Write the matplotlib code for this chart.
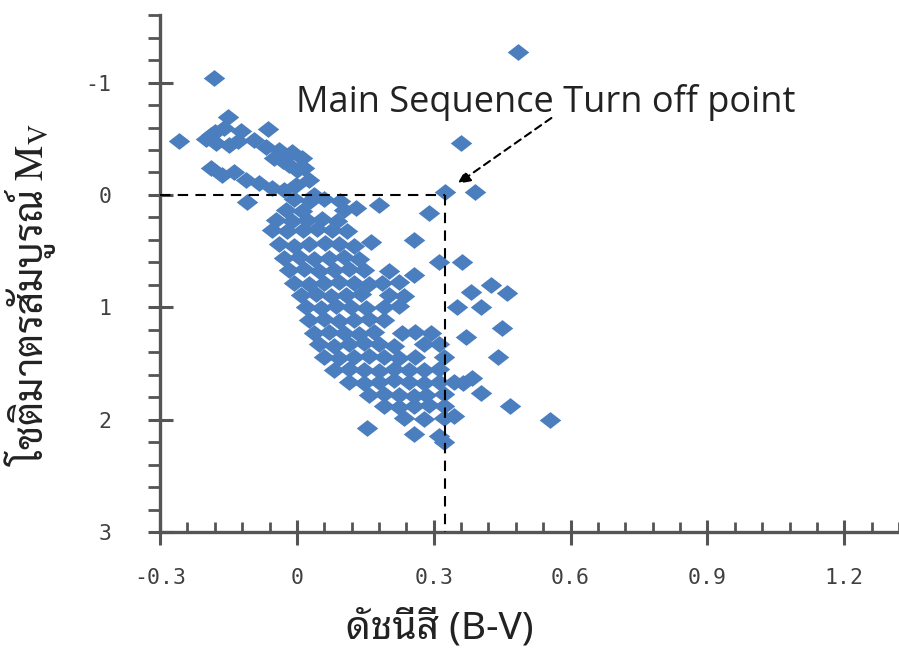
import matplotlib
matplotlib.use("Agg")
import matplotlib.pyplot as plt
import numpy as np
from matplotlib import font_manager
from matplotlib.ft2font import FT2Font
from matplotlib.path import Path

# colour index (B-V) and absolute magnitude M_V of the cluster stars
bv = [0.484, -0.182, -0.258, 0.360, 0.390, 0.325, 0.289, 0.179, 0.256, 0.162,
      -0.151, -0.123, -0.063, -0.180, -0.109,
      -0.188, -0.160, -0.094, -0.068, -0.039, -0.011, 0.011, 0.015, -0.018,
      -0.177, -0.149, -0.200, -0.130, -0.050, -0.030, 0.000,
      -0.188, -0.164, -0.138, -0.112, -0.083, -0.055, -0.028, -0.002, 0.026, 0.037,
      -0.007, 0.028, 0.059, 0.094,
      -0.024, 0.011, 0.103, 0.129,
      -0.046, -0.011, 0.022, 0.055, 0.088,
      -0.055, -0.022, 0.013, 0.044, 0.077, 0.109,
      -0.039, -0.007, 0.026, 0.061, 0.092, 0.125,
      -0.028, 0.004, 0.037, 0.070, 0.103, 0.136,
      0.311, 0.361,
      -0.018, 0.015, 0.048, 0.081, 0.114, 0.147, 0.201, 0.256,
      -0.007, 0.026, 0.059, 0.092, 0.125, 0.158, 0.186, 0.223,
      0.425, 0.381, 0.460,
      0.009, 0.042, 0.074, 0.107, 0.140, 0.201, 0.234,
      0.350, 0.403,
      0.020, 0.053, 0.085, 0.118, 0.151, 0.190, 0.223,
      0.026, 0.059, 0.092, 0.125, 0.158, 0.190,
      0.449,
      0.037, 0.070, 0.103, 0.136, 0.168, 0.230, 0.260, 0.295,
      0.370,
      0.048, 0.081, 0.114, 0.147, 0.180, 0.212, 0.278, 0.311,
      0.442,
      0.059, 0.092, 0.125, 0.158, 0.190, 0.223, 0.260, 0.322,
      0.081, 0.114, 0.147, 0.180, 0.212, 0.245, 0.278, 0.311,
      0.383,
      0.114, 0.147, 0.180, 0.212, 0.245, 0.278, 0.311, 0.344, 0.365,
      0.403,
      0.158, 0.190, 0.223, 0.256, 0.284, 0.322,
      0.468,
      0.190, 0.223, 0.256, 0.289, 0.322,
      0.556,
      0.234, 0.278, 0.322, 0.344,
      0.153,
      0.256, 0.311, 0.322]
mv = [-1.27, -1.04, -0.48, -0.46, -0.03, -0.03, 0.16, 0.09, 0.40, 0.42,
      -0.69, -0.57, -0.59, -0.56, 0.06,
      -0.53, -0.60, -0.49, -0.43, -0.40, -0.38, -0.33, -0.24, -0.27,
      -0.46, -0.44, -0.50, -0.48, -0.33, -0.30, -0.22,
      -0.24, -0.18, -0.20, -0.13, -0.11, -0.06, -0.04, -0.09, -0.13, 0.00,
      0.04, 0.05, 0.04, 0.05,
      0.13, 0.14, 0.13, 0.12,
      0.22, 0.23, 0.22, 0.21, 0.23,
      0.31, 0.32, 0.31, 0.30, 0.31, 0.32,
      0.44, 0.45, 0.44, 0.43, 0.44, 0.45,
      0.56, 0.55, 0.57, 0.56, 0.55, 0.57,
      0.60, 0.60,
      0.67, 0.66, 0.68, 0.67, 0.66, 0.67, 0.68, 0.71,
      0.78, 0.79, 0.78, 0.77, 0.78, 0.79, 0.78, 0.77,
      0.80, 0.86, 0.87,
      0.89, 0.88, 0.90, 0.89, 0.88, 0.89, 0.90,
      1.00, 1.00,
      1.00, 1.01, 0.99, 1.00, 1.01, 1.00, 0.99,
      1.11, 1.10, 1.12, 1.11, 1.10, 1.11,
      1.18,
      1.23, 1.22, 1.23, 1.24, 1.22, 1.23, 1.22, 1.23,
      1.26,
      1.33, 1.34, 1.33, 1.32, 1.33, 1.34, 1.33, 1.33,
      1.44,
      1.44, 1.45, 1.44, 1.43, 1.44, 1.45, 1.44, 1.44,
      1.56, 1.55, 1.56, 1.57, 1.55, 1.56, 1.56, 1.55,
      1.63,
      1.66, 1.67, 1.66, 1.65, 1.66, 1.67, 1.66, 1.66, 1.67,
      1.76,
      1.78, 1.77, 1.78, 1.79, 1.78, 1.77,
      1.88,
      1.88, 1.89, 1.88, 1.87, 1.88,
      2.00,
      1.98, 1.99, 1.98, 1.97,
      2.07,
      2.13, 2.14, 2.20]

turnoff_bv = 0.325
turnoff_mv = 0.0
xticks = [-0.3, 0, 0.3, 0.6, 0.9, 1.2]
xticklabels = ["-0.3", "0", "0.3", "0.6", "0.9", "1.2"]
yticks = [-1, 0, 1, 2, 3]
yticklabels = ["-1", "0", "1", "2", "3"]


def has_thai(name):
    for f in font_manager.fontManager.ttflist:
        if f.name == name:
            try:
                return 0x0E14 in FT2Font(f.fname).get_charmap()
            except Exception:
                return False
    return False


def pick(names, fallback):
    for n in names:
        if has_thai(n):
            return n
    return fallback


thai_sans = pick(["Noto Sans Thai Looped", "Sarabun", "Noto Sans Thai"], "DejaVu Sans")
thai_serif = pick(["Sarabun", "Taviraj", "Noto Serif Thai"], thai_sans)

plt.rcParams["mathtext.fontset"] = "stix"
plt.rcParams["axes.unicode_minus"] = False

blue = "#4A7EBF"
axis_col = "#555555"
diamond = Path([(0, -0.78), (1, 0), (0, 0.78), (-1, 0), (0, -0.78)],
               [Path.MOVETO, Path.LINETO, Path.LINETO, Path.LINETO, Path.CLOSEPOLY])

fig = plt.figure(figsize=(8.99, 6.57), dpi=100)
ax = fig.add_axes([0.178, 0.19, 0.822, 0.787])

ax.plot(bv, mv, linestyle="none", marker=diamond, markersize=15.5,
        markerfacecolor=blue, markeredgewidth=0, zorder=3)

# turn-off guide lines
ax.plot([-0.3, turnoff_bv], [turnoff_mv, turnoff_mv], color="black", lw=1.5,
        dashes=(5, 3.5), zorder=4)
ax.plot([turnoff_bv, turnoff_bv], [turnoff_mv, 3], color="black", lw=1.5,
        dashes=(5, 3.5), zorder=4)

ax.annotate("", xy=(0.352, -0.10), xytext=(0.558, -0.685),
            arrowprops=dict(arrowstyle="-|>,head_length=0.75,head_width=0.35",
                            linestyle=(0, (3.5, 2.5)), color="black", lw=1.5,
                            shrinkA=0, shrinkB=0), zorder=5)
ax.text(-0.002, -0.738, "Main Sequence Turn off point", fontsize=26,
        family=["Open Sans", "DejaVu Sans"], color="#222222",
        ha="left", va="baseline", zorder=5)

ax.set_xlim(-0.3, 1.32)
ax.set_ylim(3, -1.6)

for side in ["top", "right"]:
    ax.spines[side].set_visible(False)
for side in ["left", "bottom"]:
    ax.spines[side].set_color(axis_col)
    ax.spines[side].set_linewidth(2.4)

ax.set_xticks(xticks)
ax.set_xticklabels(xticklabels)
ax.set_yticks(yticks)
ax.set_yticklabels(yticklabels)
ax.set_xticks(np.arange(-0.3, 1.33, 0.06), minor=True)
ax.set_yticks(np.arange(-1.6, 3.01, 0.2), minor=True)
ax.tick_params(which="major", direction="inout", length=18, width=2.2,
               color=axis_col, labelcolor="#404040", labelsize=15.5)
ax.tick_params(axis="x", which="major", pad=17)
ax.tick_params(axis="y", which="major", pad=26)
ax.tick_params(axis="x", which="minor", direction="in", length=7, width=2,
               color=axis_col)
ax.tick_params(axis="y", which="minor", direction="out", length=8.5, width=2,
               color=axis_col)
for lab in ax.get_xticklabels() + ax.get_yticklabels():
    lab.set_family("DejaVu Sans Mono")

ax.set_xlabel("ดัชนีสี (B-V)", fontsize=28, family=[thai_sans, "DejaVu Sans"],
              color="#222222", va="center")
ax.xaxis.set_label_coords(0.379, -0.186)
ax.set_ylabel("โชติมาตรสัมบูรณ์ $\\mathrm{M_V}$", fontsize=28.5,
              family=[thai_serif, "DejaVu Serif"], color="#222222", va="center")
ax.yaxis.set_label_coords(-0.176, 0.46)

fig.savefig("out.png", dpi=100)
